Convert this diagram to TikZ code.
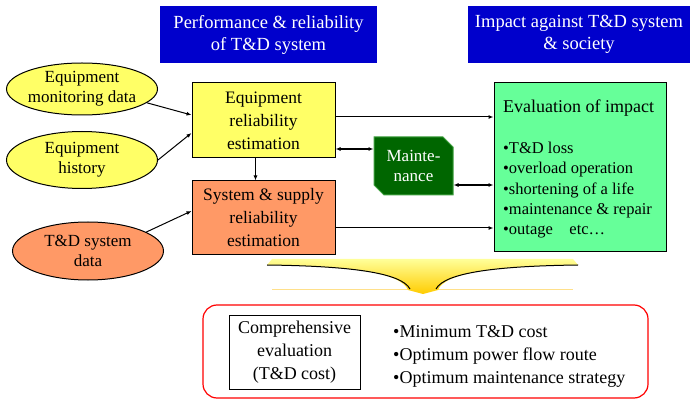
\documentclass[tikz,border=0pt]{standalone}
\usepackage{fontspec}
\setmainfont{Liberation Serif}
\usepackage{tikz}
\usetikzlibrary{arrows.meta, positioning, shapes.geometric, shapes.misc}
\definecolor{hdrblue}{HTML}{0000CC}
\definecolor{inyellow}{HTML}{FFFF66}
\definecolor{inorange}{HTML}{FF9966}
\definecolor{evgreen}{HTML}{66FF99}
\definecolor{mtgreen}{HTML}{006600}
\definecolor{mtedge}{HTML}{3FA03F}
\definecolor{funtop}{HTML}{FFFF99}
\definecolor{funbot}{HTML}{FFCC00}
\definecolor{funline}{HTML}{FFE08A}
\tikzset{
  hdr/.style={fill=hdrblue, text=white, align=center, inner sep=0pt,
    minimum height=57pt, font=\fontsize{18.5}{22}\selectfont},
  srcell/.style={ellipse, draw, line width=1pt, align=center, inner xsep=-30pt, inner ysep=-12pt,
    minimum width=151pt, minimum height=56pt, font=\fontsize{17}{20}\selectfont},
  estbox/.style={draw, line width=1pt, align=center, minimum width=143pt, minimum height=74pt,
    inner sep=0pt, font=\fontsize{17.5}{23}\selectfont},
  flow/.style={-{Latex[length=5pt,width=4pt]}, line width=1pt},
  twoway/.style={{Latex[length=5pt,width=4pt]}-{Latex[length=5pt,width=4pt]}, line width=1.4pt}
}
\begin{document}
\begin{tikzpicture}[x=1pt, y=-1pt]
\useasboundingbox (0,0) rectangle (693,403);
% headers
\node[hdr, minimum width=217pt] (hdrperf) at (268.5,34.5) {Performance \& reliability\\of T\&D system};
\node[hdr, minimum width=222pt] (hdrimp) at (579,34.5) {Impact against T\&D system\\\& society};
% inputs
\node[srcell, fill=inyellow, minimum height=52pt] (eqmon) at (82,89) {Equipment\\monitoring data};
\node[srcell, fill=inyellow, minimum height=57pt] (eqhist) at (82,160) {Equipment\\history};
\node[srcell, fill=inorange, minimum height=58pt] (tdsys) at (88,251) {T\&D system\\data};
% estimations
\node[estbox, fill=inyellow, minimum height=75pt] (eqrel) at (263.5,120.5) {Equipment\\reliability\\estimation};
\node[estbox, fill=inorange, below=22pt of eqrel] (sysrel) {System \& supply\\reliability\\estimation};
\node[chamfered rectangle, chamfered rectangle corners={north east, south west},
  chamfered rectangle xsep=5pt, chamfered rectangle ysep=5pt, fill=mtgreen, draw=mtedge,
  line width=1pt, minimum width=79pt, minimum height=58pt, inner sep=0pt, text=white,
  align=center, font=\fontsize{17}{20}\selectfont] (maint) at (413.5,166) {Mainte-\\nance};
% impact
\node[draw, line width=1pt, fill=evgreen, minimum width=172pt, minimum height=169pt] (evalbox) at (580,167.5) {};
\node[anchor=west, inner sep=0pt, font=\fontsize{18}{22}\selectfont] (evaltitle) at (503,108) {Evaluation of impact};
\node[anchor=north west, inner sep=0pt, align=left, font=\fontsize{16.5}{20.2}\selectfont] (evalitems) at (503,142)
  {\textbullet T\&D loss\\\textbullet overload operation\\\textbullet shortening of a life\\\textbullet maintenance \& repair\\\textbullet outage\quad etc\dots};
% connectors
\draw[flow] (eqmon.-12) -- ([yshift=5.5pt]eqrel.west);
\draw[flow] (eqhist.east) -- ([yshift=-12.5pt]eqrel.west);
\draw[flow] (tdsys.18) -- ([yshift=7pt]sysrel.west);
\draw[flow] ([xshift=-8pt]eqrel.south) -- ([xshift=-8pt]sysrel.north);
\draw[flow] ([yshift=3.5pt]eqrel.east) -- ([yshift=3.5pt]eqrel.east -| evalbox.west);
\draw[twoway] ([yshift=-28.5pt]eqrel.east) -- ([yshift=-28.5pt]eqrel.east -| maint.west);
\draw[twoway] ([yshift=-19pt]maint.east) -- ([yshift=-19pt]maint.east -| evalbox.west);
\draw[flow] ([yshift=-10pt]sysrel.east) -- ([yshift=-10pt]sysrel.east -| evalbox.west);
% funnel
\draw[funline, line width=0.7pt] (272,289) -- (573,289);
\shade[top color=funtop, bottom color=funbot] (272,259) -- (573,259) -- (578,265)
  .. controls (500,266) and (445,272) .. (438,290) -- (423,294) -- (408,290)
  .. controls (401,272) and (346,266) .. (267,265) -- cycle;
\draw[line width=1pt] (578,265) .. controls (500,266) and (445,272) .. (436,289);
\draw[line width=1pt] (267,265) .. controls (346,266) and (401,272) .. (410,289);
% summary
\node[draw=red, line width=1.2pt, rounded corners=14pt, minimum width=445pt, minimum height=93pt] (summary) at (425.5,351.5) {};
\node[draw, line width=1pt, fill=white, minimum width=131pt, minimum height=74pt, align=center,
  inner sep=0pt, font=\fontsize{18}{23}\selectfont] (compeval) at (294.5,352) {Comprehensive\\evaluation\\(T\&D cost)};
\node[anchor=west, inner sep=0pt, align=left, font=\fontsize{18}{23}\selectfont] (goals) at (393,356)
  {\textbullet Minimum T\&D cost\\\textbullet Optimum power flow route\\\textbullet Optimum maintenance strategy};
\end{tikzpicture}
\end{document}
